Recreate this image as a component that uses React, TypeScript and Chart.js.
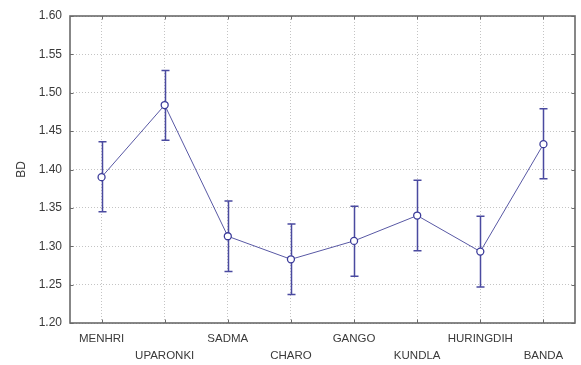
import React, { useEffect, useRef } from "react";
import { Chart, registerables } from "chart.js";

Chart.register(...registerables);

const categories = ["MENHRI", "UPARONKI", "SADMA", "CHARO", "GANGO", "KUNDLA", "HURINGDIH", "BANDA"];
const means = [1.39, 1.484, 1.313, 1.283, 1.307, 1.34, 1.293, 1.433];
const upper = [1.436, 1.529, 1.359, 1.329, 1.352, 1.386, 1.339, 1.479];
const lower = [1.345, 1.438, 1.267, 1.237, 1.261, 1.294, 1.247, 1.388];
const yMin = 1.2;
const yMax = 1.6;
const yStep = 0.05;
const yTitle = "BD";

const FONT = "'Liberation Sans', Arial, sans-serif";
const TEXT = "#3a3a3a";
const FRAME = "#6a6a6a";
const BAR = "#4a4aa0";

const framePlugin = {
  id: "frameAndBars",
  beforeDatasetsDraw(chart: any) {
    const { ctx, chartArea: a, scales } = chart;
    const x = scales.x;
    const y = scales.y;
    ctx.save();
    // inward ticks
    ctx.strokeStyle = FRAME;
    ctx.lineWidth = 1;
    const tl = 3.5;
    y.ticks.forEach((_t: any, i: number) => {
      const py = Math.round(y.getPixelForTick(i)) + 0.5;
      ctx.beginPath();
      ctx.moveTo(a.left, py);
      ctx.lineTo(a.left + tl, py);
      ctx.moveTo(a.right, py);
      ctx.lineTo(a.right - tl, py);
      ctx.stroke();
    });
    categories.forEach((_c, i) => {
      const px = Math.round(x.getPixelForValue(i)) + 0.5;
      ctx.beginPath();
      ctx.moveTo(px, a.top);
      ctx.lineTo(px, a.top + tl);
      ctx.moveTo(px, a.bottom);
      ctx.lineTo(px, a.bottom - tl);
      ctx.stroke();
    });
    // frame
    ctx.lineWidth = 1.6;
    ctx.strokeRect(a.left, a.top, a.right - a.left, a.bottom - a.top);
    // error bars
    ctx.strokeStyle = BAR;
    ctx.lineWidth = 1.5;
    const cap = 4;
    categories.forEach((_c, i) => {
      const px = Math.round(x.getPixelForValue(i)) + 0.5;
      const pu = y.getPixelForValue(upper[i]);
      const pl = y.getPixelForValue(lower[i]);
      ctx.beginPath();
      ctx.moveTo(px, pu);
      ctx.lineTo(px, pl);
      ctx.moveTo(px - cap, pu);
      ctx.lineTo(px + cap, pu);
      ctx.moveTo(px - cap, pl);
      ctx.lineTo(px + cap, pl);
      ctx.stroke();
    });
    ctx.restore();
  },
};

export default function App() {
  const ref = useRef<HTMLCanvasElement | null>(null);
  useEffect(() => {
    if (!ref.current) return;
    const chart = new Chart(ref.current, {
      type: "line",
      data: {
        labels: categories,
        datasets: [
          {
            data: means,
            borderColor: "#5858a4",
            borderWidth: 1,
            pointRadius: 3.5,
            pointHoverRadius: 3.5,
            pointBackgroundColor: "#ffffff",
            pointBorderColor: "#3c3c9a",
            pointBorderWidth: 1.3,
            tension: 0,
            fill: false,
          },
        ],
      },
      options: {
        responsive: false,
        animation: false,
        events: [],
        layout: { padding: { left: 10, right: 6, top: 16, bottom: 0 } },
        plugins: { legend: { display: false }, tooltip: { enabled: false } },
        scales: {
          x: {
            type: "category",
            offset: true,
            afterFit: (s: any) => {
              s.height = 42;
            },
            grid: { color: "#c4c4c4", lineWidth: 1, drawTicks: false, offset: false },
            border: { display: false, dash: [1, 2] },
            ticks: {
              padding: 8,
              autoSkip: false,
              maxRotation: 0,
              color: TEXT,
              font: { family: FONT, size: 11.5, lineHeight: 16.5 / 11.5 },
              callback: (_v: any, i: number) => (i % 2 === 0 ? [categories[i]] : ["", categories[i]]),
            },
          },
          y: {
            min: yMin,
            max: yMax,
            afterFit: (s: any) => {
              s.width = 60;
            },
            grid: { color: "#c4c4c4", lineWidth: 1, drawTicks: false },
            border: { display: false, dash: [1, 2] },
            ticks: {
              stepSize: yStep,
              padding: 8,
              color: TEXT,
              font: { family: FONT, size: 12 },
              callback: (v: any) => Number(v).toFixed(2),
            },
            title: {
              display: true,
              text: yTitle,
              color: TEXT,
              font: { family: FONT, size: 12 },
              padding: { top: 4, bottom: 0 },
            },
          },
        },
      },
      plugins: [framePlugin],
    });
    return () => chart.destroy();
  }, []);
  return (
    <div style={{ position: "absolute", left: 0, top: 0, width: 581, height: 365, background: "#fff" }}>
      <canvas ref={ref} width={581} height={365} />
    </div>
  );
}
